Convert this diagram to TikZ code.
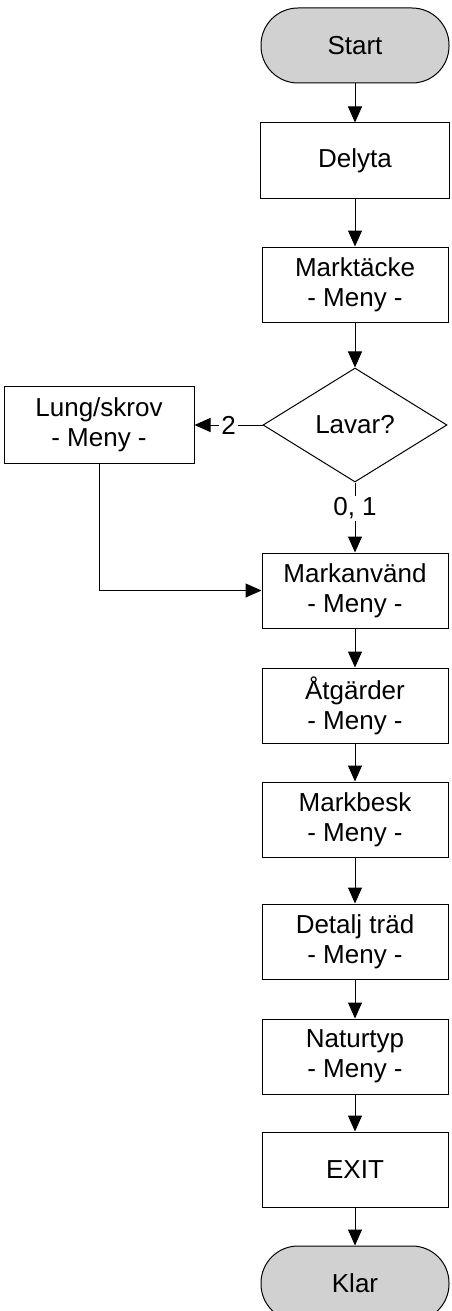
\documentclass[tikz,border=0pt]{standalone}
\usepackage{fontspec}
\setmainfont{Liberation Sans}
\usetikzlibrary{shapes.geometric,positioning,arrows.meta}

\tikzset{
  box/.style = {draw, shape = rectangle, minimum width = 186pt, minimum height = 75pt, align = center, inner sep = 0pt},
  term/.style = {draw, shape = rectangle, rounded corners = 37pt, fill = black!18, minimum width = 188pt, minimum height = 75pt, inner sep = 0pt},
  test/.style = {draw, shape = diamond, aspect = 1.5, minimum width = 184pt, minimum height = 114pt, inner sep = 0pt},
  flow/.style = {-{Triangle[length = 16pt, width = 14pt]}},
  lbl/.style = {fill = white, inner sep = 2pt, minimum size = 0pt}
}

\begin{document}
\begin{tikzpicture}[x = 1pt, y = 1pt, line width = 1pt, every node/.style = {font = \fontsize{26}{30}\selectfont}]
\useasboundingbox (0,0) rectangle (451,-1311);
\node[term] (start) at (355,-45.5) {Start};
\node[box, minimum width = 189pt, below = 39pt of start] (delyta) {Delyta};
\node[box, below = 48pt of delyta] (marktacke) {Marktäcke\\- Meny -};
\node[test, below = 45pt of marktacke] (lavar) {Lavar?};
\node[box, minimum width = 190pt, minimum height = 77pt, left = 68pt of lavar] (lung) {Lung/skrov\\- Meny -};
\node[box, below = 70pt of lavar] (markanv) {Markanvänd\\- Meny -};
\node[box, below = 39pt of markanv] (atgarder) {Åtgärder\\- Meny -};
\node[box, below = 38pt of atgarder] (markbesk) {Markbesk\\- Meny -};
\node[box, below = 46pt of markbesk] (detalj) {Detalj träd\\- Meny -};
\node[box, below = 39pt of detalj] (naturtyp) {Naturtyp\\- Meny -};
\node[box, below = 37pt of naturtyp] (exit) {EXIT};
\node[term, below = 38pt of exit] (klar) {Klar};

\draw[flow] (start) -- (delyta);
\draw[flow] (delyta) -- (marktacke);
\draw[flow] (marktacke) -- (lavar);
\draw[flow] (lavar.west) -- node[lbl] {2} (lung.east);
\draw[flow] (lavar.south) -- node[lbl, pos = 0.37] {0, 1} (markanv.north);
\draw[flow] (lung.south) |- (markanv.west);
\draw[flow] (markanv) -- (atgarder);
\draw[flow] (atgarder) -- (markbesk);
\draw[flow] (markbesk) -- (detalj);
\draw[flow] (detalj) -- (naturtyp);
\draw[flow] (naturtyp) -- (exit);
\draw[flow] (exit) -- (klar);
\end{tikzpicture}
\end{document}
